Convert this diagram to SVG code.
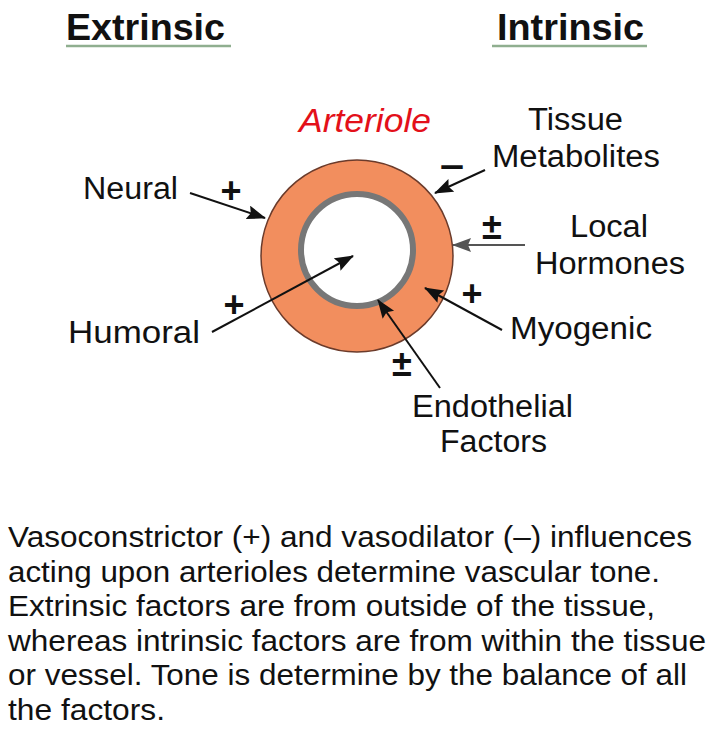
<svg xmlns="http://www.w3.org/2000/svg" width="720" height="743" viewBox="0 0 720 743">
<style>
  text { font-family: "Liberation Sans", Arial, sans-serif; fill: #111; }
  .hdr { font-size: 37px; font-weight: bold; }
  .lbl { font-size: 31px; }
  .sign { font-size: 36px; font-weight: bold; text-anchor: middle; }
  .para { font-size: 30px; }
  .ul { stroke: #8fae8f; stroke-width: 2.5; }
  .conn { stroke: #111; stroke-width: 2; fill: none; marker-end: url(#ah); }
  .conn-g { stroke: #555; stroke-width: 2; fill: none; marker-end: url(#ahg); }
</style>
<defs>
  <marker id="ah" markerUnits="userSpaceOnUse" markerWidth="20" markerHeight="16" refX="18" refY="7" orient="auto">
    <path d="M0,0 L19,7 L0,14 L3,7 z" fill="#111"/>
  </marker>
  <marker id="ahg" markerUnits="userSpaceOnUse" markerWidth="20" markerHeight="16" refX="18" refY="7" orient="auto">
    <path d="M0,0 L19,7 L0,14 L3,7 z" fill="#555"/>
  </marker>
</defs>
<rect width="720" height="743" fill="#fff"/>

<g id="header-extrinsic">
  <text class="hdr" x="66" y="40" textLength="159" lengthAdjust="spacingAndGlyphs">Extrinsic</text>
  <line class="ul" x1="66" y1="46" x2="231" y2="46"/>
</g>
<g id="header-intrinsic">
  <text class="hdr" x="497" y="40" textLength="147" lengthAdjust="spacingAndGlyphs">Intrinsic</text>
  <line class="ul" x1="492" y1="46" x2="647" y2="46"/>
</g>

<g id="arteriole">
  <text x="299" y="132" font-size="34" font-style="italic" style="fill:#e3101a" textLength="132" lengthAdjust="spacingAndGlyphs">Arteriole</text>
  <circle cx="357" cy="256" r="96" fill="#f28e5e" stroke="#6b3b2b" stroke-width="1.5"/>
  <circle cx="357" cy="250" r="56" fill="#fff" stroke="#777" stroke-width="6"/>
</g>

<g id="neural">
  <text class="lbl" x="83" y="199" textLength="95" lengthAdjust="spacingAndGlyphs">Neural</text>
  <text class="sign" x="231" y="203">+</text>
</g>
<g id="humoral">
  <text class="lbl" x="68" y="343" textLength="132" lengthAdjust="spacingAndGlyphs">Humoral</text>
  <text class="sign" x="234" y="317">+</text>
</g>
<g id="tissue-metabolites">
  <text class="lbl" x="528" y="130" textLength="95" lengthAdjust="spacingAndGlyphs">Tissue</text>
  <text class="lbl" x="492" y="167" textLength="168" lengthAdjust="spacingAndGlyphs">Metabolites</text>
  <text class="sign" x="452" y="177" textLength="24" lengthAdjust="spacingAndGlyphs">–</text>
</g>
<g id="local-hormones">
  <text class="lbl" x="570" y="237" textLength="78" lengthAdjust="spacingAndGlyphs">Local</text>
  <text class="lbl" x="535" y="274" textLength="150" lengthAdjust="spacingAndGlyphs">Hormones</text>
  <text class="sign" x="492" y="239">±</text>
</g>
<g id="myogenic">
  <text class="lbl" x="510" y="339" textLength="142" lengthAdjust="spacingAndGlyphs">Myogenic</text>
  <text class="sign" x="472" y="306">+</text>
</g>
<g id="endothelial-factors">
  <text class="lbl" x="412" y="417" textLength="161" lengthAdjust="spacingAndGlyphs">Endothelial</text>
  <text class="lbl" x="440" y="452" textLength="107" lengthAdjust="spacingAndGlyphs">Factors</text>
  <text class="sign" x="402" y="376">±</text>
</g>

<g id="connectors">
  <line class="conn" x1="190" y1="193" x2="265" y2="218"/>
  <line class="conn" x1="212" y1="332" x2="353" y2="256"/>
  <line class="conn" x1="485" y1="170" x2="435" y2="193"/>
  <line class="conn-g" x1="525" y1="245" x2="453" y2="245"/>
  <line class="conn" x1="502" y1="330" x2="425" y2="288"/>
  <line class="conn" x1="440" y1="388" x2="378" y2="300"/>
</g>

<g id="caption">
  <text class="para" x="8" y="547" textLength="684" lengthAdjust="spacingAndGlyphs">Vasoconstrictor (+) and vasodilator (–) influences</text>
  <text class="para" x="8" y="581.5" textLength="652" lengthAdjust="spacingAndGlyphs">acting upon arterioles determine vascular tone.</text>
  <text class="para" x="8" y="616" textLength="647" lengthAdjust="spacingAndGlyphs">Extrinsic factors are from outside of the tissue,</text>
  <text class="para" x="8" y="650.5" textLength="698" lengthAdjust="spacingAndGlyphs">whereas intrinsic factors are from within the tissue</text>
  <text class="para" x="8" y="685" textLength="679" lengthAdjust="spacingAndGlyphs">or vessel. Tone is determine by the balance of all</text>
  <text class="para" x="8" y="719.5" textLength="157" lengthAdjust="spacingAndGlyphs">the factors.</text>
</g>
</svg>
